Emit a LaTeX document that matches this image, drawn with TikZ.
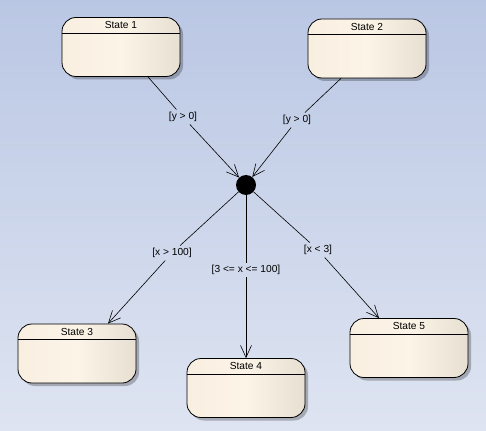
\documentclass[tikz,border=0pt]{standalone}
\usepackage{fontspec}
\setmainfont{Liberation Sans}
\usetikzlibrary{arrows.meta,shadows}
\definecolor{bgtop}{RGB}{186,199,228}
\definecolor{bgbot}{RGB}{222,228,241}
\definecolor{stL}{RGB}{248,239,225}
\definecolor{stM}{RGB}{252,244,231}
\definecolor{stR}{RGB}{231,223,210}
\begin{document}
\begin{tikzpicture}[x=1pt,y=-1pt,
  state/.style={draw=black, line width=0.8pt, rounded corners=14pt,
    minimum width=118pt, minimum height=59pt, inner sep=0pt,
    left color=stL, right color=stR, middle color=stM,
    drop shadow={shadow xshift=3pt, shadow yshift=-3pt, fill=black, opacity=0.25}},
  title/.style={font=\fontsize{10.2}{12}\selectfont, inner sep=0pt},
  guard/.style={font=\fontsize{10.2}{12}\selectfont, inner sep=2.5pt},
  hdr/.style={line width=0.8pt, draw=black},
  tr/.style={line width=0.6pt, draw=black},
  arr/.style={tr, -{Straight Barb[length=12pt,width=11pt]}},
  decision/.style={circle, fill=black, minimum size=20pt, inner sep=0pt}]
\fill[top color=bgtop, bottom color=bgbot] (0,0) rectangle (486,430);
\useasboundingbox (0,0) rectangle (486,430);

% states
\node[state] (s1) at (121,47) {};
\node[title] (t1) at ([yshift=-8pt]s1.north) {State 1};
\draw[hdr] ([yshift=-16pt]s1.north west) -- ([yshift=-16pt]s1.north east);

\node[state] (s2) at (367,48.5) {};
\node[title] (t2) at ([yshift=-8pt]s2.north) {State 2};
\draw[hdr] ([yshift=-16pt]s2.north west) -- ([yshift=-16pt]s2.north east);

\node[state] (s3) at (77,353.5) {};
\node[title] (t3) at ([yshift=-8pt]s3.north) {State 3};
\draw[hdr] ([yshift=-16pt]s3.north west) -- ([yshift=-16pt]s3.north east);

\node[state] (s4) at (246,388) {};
\node[title] (t4) at ([yshift=-8pt]s4.north) {State 4};
\draw[hdr] ([yshift=-16pt]s4.north west) -- ([yshift=-16pt]s4.north east);

\node[state] (s5) at (409,348) {};
\node[title] (t5) at ([yshift=-8pt]s5.north) {State 5};
\draw[hdr] ([yshift=-16pt]s5.north west) -- ([yshift=-16pt]s5.north east);

% decision
\node[decision] (d) at (246,185) {};

% guards
\node[guard] (g1) at (183,117) {[y > 0]};
\node[guard] (g2) at (297,120) {[y > 0]};
\node[guard] (g3) at (172,253) {[x > 100]};
\node[guard] (g4) at (246,270) {[3 <= x <= 100]};
\node[guard] (g5) at (318,250) {[x < 3]};

% transitions
\draw[tr] ([xshift=27pt]s1.south) -- (g1);
\draw[arr] (g1) -- (d);
\draw[tr] ([xshift=-26pt]s2.south) -- (g2);
\draw[arr] (g2) -- (d);
\draw[tr] (d) -- (g3);
\draw[arr] (g3) -- ([xshift=31pt]s3.north);
\draw[tr] (d) -- (g4);
\draw[arr] (g4) -- (s4.north);
\draw[tr] (d) -- (g5);
\draw[arr] (g5) -- ([xshift=-30pt]s5.north);
\end{tikzpicture}
\end{document}
